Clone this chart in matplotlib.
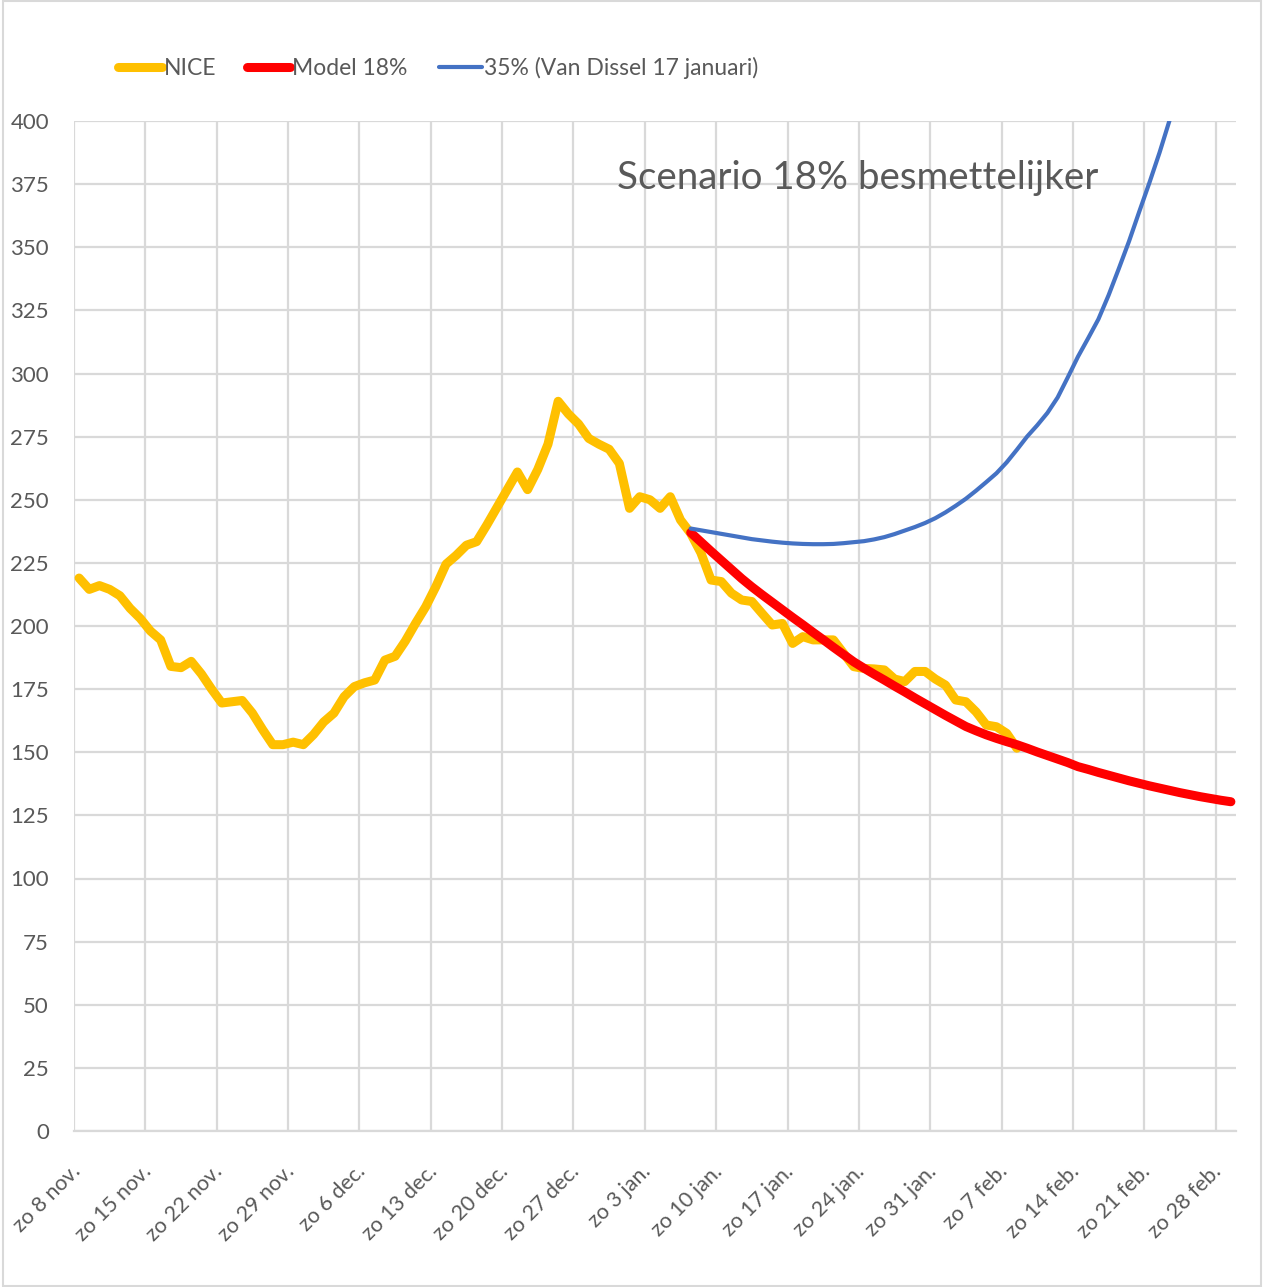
import numpy as np
import matplotlib
matplotlib.use("Agg")
from matplotlib import pyplot as plt
from matplotlib.patches import Rectangle
from matplotlib.transforms import ScaledTranslation

plt.rcParams['font.family'] = ['Lato', 'DejaVu Sans']

# week labels (Sundays), daily data starts zo 8 nov.
week_labels = ["zo 8 nov.", "zo 15 nov.", "zo 22 nov.", "zo 29 nov.", "zo 6 dec.",
               "zo 13 dec.", "zo 20 dec.", "zo 27 dec.", "zo 3 jan.", "zo 10 jan.",
               "zo 17 jan.", "zo 24 jan.", "zo 31 jan.", "zo 7 feb.", "zo 14 feb.",
               "zo 21 feb.", "zo 28 feb."]
n_days = 114  # 8 nov .. 1 mrt

# NICE, day 0 .. 92
nice = [219, 214.5, 216, 214.5, 212, 207, 203, 198, 194.5, 184,
        183.5, 186, 181, 175, 169.5, 170, 170.5, 165.5, 159, 153,
        153, 154, 153, 157, 162, 165.5, 172, 176, 177.5, 178.6,
        186.5, 188, 194, 201, 207.6, 215.6, 224.5, 228, 232, 233.4,
        240, 247, 254, 261, 254, 262, 272, 289, 284, 280,
        274.3, 272, 270, 264.4, 246.6, 251.2, 250, 246.6, 251.2, 242,
        236.7, 229, 218.2, 217.6, 213, 210.3, 209.7, 205, 200.4, 201,
        193.1, 195.8, 194.5, 194.5, 194.5, 189.2, 183.9, 183.2, 183, 182.6,
        179, 178, 182, 182, 179, 176.6, 170.7, 170, 166, 160.8,
        160.1, 157.5, 151.6]

# Model 18%, day 60 .. 113
model_start = 60
model = [237.0, 233.3, 229.6, 226.0, 222.4, 218.8, 215.5, 212.4, 209.4, 206.4,
         203.4, 200.5, 197.5, 194.6, 191.6, 188.7, 185.8, 183.3, 180.9, 178.6,
         176.2, 173.9, 171.5, 169.2, 166.9, 164.6, 162.4, 160.2, 158.5, 156.9,
         155.5, 154.2, 153.0, 151.6, 150.1, 148.7, 147.3, 145.9, 144.3, 143.2,
         142.0, 140.9, 139.8, 138.7, 137.7, 136.7, 135.8, 134.9, 134.0, 133.2,
         132.4, 131.7, 131.0, 130.4]

# 35% (Van Dissel 17 januari), day 60 .. 109
vd_start = 60
vandissel = [238.6, 237.9, 237.2, 236.5, 235.8, 235.1, 234.4, 233.9, 233.4, 233.0,
             232.7, 232.5, 232.4, 232.4, 232.5, 232.8, 233.2, 233.6, 234.3, 235.2,
             236.4, 237.8, 239.2, 240.8, 242.7, 245.0, 247.6, 250.4, 253.6, 257.0,
             260.5, 264.8, 269.8, 275.0, 279.5, 284.4, 290.5, 298.5, 306.7, 314.0,
             321.5, 331.0, 341.5, 352.3, 364.0, 375.5, 387.5, 400.5, 414.0, 428.0]

grey = '#595959'
grid = '#d9d9d9'

fig = plt.figure(figsize=(12.64, 12.87), dpi=100)
ax = fig.add_axes([74/1264, 1-1131/1287, (1236-74)/1264, (1131-121)/1287])

x_nice = np.arange(len(nice)) + 0.5
x_model = np.arange(len(model)) + model_start + 0.5
x_vd = np.arange(len(vandissel)) + vd_start + 0.5

ax.plot(x_nice, nice, color='#FFC000', linewidth=6.5, solid_joinstyle='round',
        solid_capstyle='round', label='NICE', zorder=3)
ax.plot(x_model, model, color='#FF0000', linewidth=6.5, solid_joinstyle='round',
        solid_capstyle='round', label='Model 18%', zorder=4)
ax.plot(x_vd, vandissel, color='#4472C4', linewidth=3, solid_joinstyle='round',
        solid_capstyle='round', label='35% (Van Dissel 17 januari)', zorder=5)

ax.set_xlim(0, n_days)
ax.set_ylim(0, 400)
ax.set_yticks(np.arange(0, 401, 25))
ax.set_xticks(np.arange(0, 113, 7))
ax.set_xticklabels(week_labels, rotation=45, ha='right', va='center',
                   rotation_mode='anchor')
ax.tick_params(axis='x', length=0, pad=27, labelsize=15.5, labelcolor=grey)
ax.tick_params(axis='y', length=0, pad=18, labelsize=16, labelcolor=grey)
shift = ScaledTranslation(3/100, 0, fig.dpi_scale_trans)
for lab in ax.get_xticklabels():
    lab.set_transform(lab.get_transform() + shift)
ax.grid(True, color=grid, linewidth=1.6)
ax.set_axisbelow(True)
for s in ['top', 'right', 'left']:
    ax.spines[s].set_visible(False)
ax.spines['bottom'].set_color(grid)
ax.spines['bottom'].set_linewidth(1.6)

ax.text(0.674, 0.9436, 'Scenario 18% besmettelijker', transform=ax.transAxes,
        fontsize=27.7, color=grey, ha='center', va='center')

fig.legend(loc='center left', bbox_to_anchor=(118/1264, 1-68/1287), ncol=3,
           frameon=False, fontsize=16.5, labelcolor=grey, handlelength=1.9,
           handletextpad=0.08, columnspacing=1.35, borderaxespad=0, borderpad=0)

# chart border
fig.patches.append(Rectangle((0.002, 0.001), 0.996, 0.998, transform=fig.transFigure,
                             fill=False, edgecolor=grid, linewidth=1.5))

fig.savefig('out.png', dpi=100)
